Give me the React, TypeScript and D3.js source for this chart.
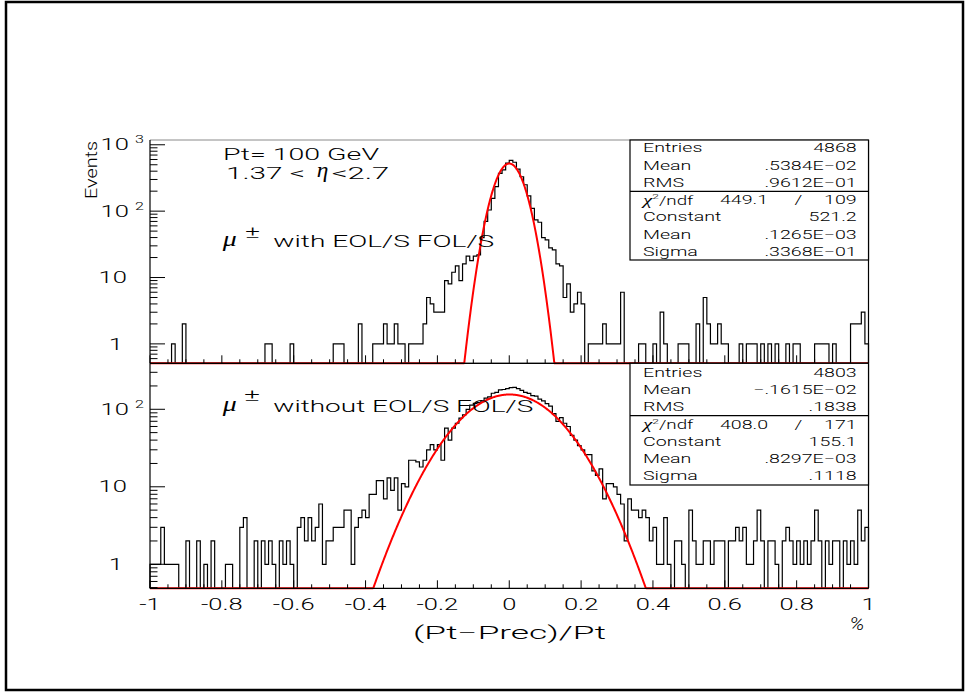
import React from 'react';
import * as d3 from 'd3';

// ---------- data ----------
const xTickValues = [-1, -0.8, -0.6, -0.4, -0.2, 0, 0.2, 0.4, 0.6, 0.8, 1];
const xTickLabels = ['-1', '-0.8', '-0.6', '-0.4', '-0.2', '0', '0.2', '0.4', '0.6', '0.8', '1'];

// 200 bins from -1 to 1 (width 0.01)
const topCounts = [
  0, 0, 0, 0, 0, 0, 1, 0, 0, 2,
  0, 0, 0, 0, 0, 0, 0, 0, 0, 0,
  0, 0, 0, 0, 0, 0, 0, 0, 0, 0,
  0, 0, 1, 1, 0, 0, 0, 0, 0, 1,
  0, 0, 0, 0, 0, 0, 0, 0, 0, 0,
  0, 1, 1, 1, 0, 0, 0, 0, 2, 0,
  0, 0, 1, 1, 1, 2, 1, 1, 2, 1,
  1, 0, 1, 1, 1, 1, 2, 5, 4, 3,
  3, 3, 9, 8, 12, 15, 9, 16, 21, 18,
  21, 22, 40, 70, 104, 156, 234, 370, 420, 530,
  580, 545, 430, 330, 250, 170, 110, 74, 68, 40,
  37, 28, 26, 16, 15, 5, 8, 3, 4, 6,
  4, 0, 1, 1, 1, 1, 2, 1, 1, 1,
  1, 6, 0, 0, 0, 0, 1, 1, 0, 0,
  1, 0, 3, 1, 0, 0, 0, 1, 1, 1,
  0, 0, 2, 0, 5, 2, 1, 1, 2, 1,
  1, 0, 0, 0, 1, 0, 1, 1, 1, 0,
  1, 0, 1, 0, 1, 0, 0, 1, 0, 1,
  1, 0, 0, 0, 0, 1, 1, 1, 1, 0,
  1, 0, 0, 0, 0, 2, 2, 2, 3, 1,
];

const bottomCounts = [
  1, 1, 1, 3, 1, 1, 1, 1, 0, 0,
  2, 0, 0, 2, 0, 1, 0, 2, 0, 0,
  0, 1, 1, 0, 0, 3, 4, 0, 0, 2,
  0, 2, 1, 2, 1, 0, 2, 1, 2, 1,
  0, 3, 4, 2, 4, 2, 3, 6, 1, 2,
  2, 3, 3, 3, 5, 5, 1, 3, 4, 5,
  4, 8, 8, 12, 12, 7, 13, 9, 13, 5,
  11, 10, 22, 22, 21, 18, 22, 30, 35, 30,
  35, 22, 57, 40, 57, 66, 77, 85, 100, 113,
  119, 122, 125, 139, 145, 161, 165, 178, 180, 185,
  190, 192, 185, 175, 165, 160, 150, 148, 135, 128,
  118, 110, 88, 70, 78, 66, 60, 46, 40, 34,
  30, 26, 26, 16, 14, 17, 7, 11, 11, 10,
  8, 6, 2, 7, 5, 5, 4, 5, 4, 2,
  3, 1, 1, 4, 1, 0, 2, 2, 1, 0,
  5, 2, 1, 1, 2, 2, 1, 2, 2, 2,
  0, 2, 2, 3, 2, 3, 1, 1, 2, 5,
  2, 0, 2, 2, 1, 0, 2, 3, 2, 1,
  2, 1, 2, 1, 2, 5, 2, 0, 2, 1,
  2, 2, 0, 2, 1, 2, 1, 5, 2, 3,
];

// fit parameters: constant, mean, sigma
const topFit = [521.2, 0.1265e-3, 0.3368e-1];
const bottomFit = [155.1, 0.8297e-3, 0.1118];

const statNames = ['Entries', 'Mean', 'RMS'];
const fitNames = ['Constant', 'Mean', 'Sigma'];
const topStatValues = ['4868', '.5384E\u221202', '.9612E\u221201'];
const topFitValues = ['521.2', '.1265E\u221203', '.3368E\u221201'];
const topChi2 = ['449.1', '109'];
const bottomStatValues = ['4803', '\u2212.1615E\u221202', '.1838'];
const bottomFitValues = ['155.1', '.8297E\u221203', '.1118'];
const bottomChi2 = ['408.0', '171'];

const topDecades = [1, 10, 100, 1000];
const bottomDecades = [1, 10, 100];

// ---------- layout ----------
const W = 971;
const H = 697;
const X0 = 150;
const X1 = 868.5;
const SANS = "Roboto, 'Liberation Sans', Arial, Helvetica, sans-serif";
const WEIGHT = 300;
const SERIF = "'Liberation Serif', 'Times New Roman', serif";

const xScale = d3.scaleLinear().domain([-1, 1]).range([X0, X1]);

type TProps = {
  x: number; y: number; s?: number; sx?: number; anchor?: string;
  children?: React.ReactNode; italic?: boolean; family?: string;
};
const T = ({ x, y, s = 16, sx = 1.6, anchor = 'start', children, italic, family }: TProps) => (
  <text
    transform={`translate(${x},${y}) scale(${sx},1)`}
    fontSize={s}
    textAnchor={anchor}
    dominantBaseline="central"
    fontFamily={family || SANS}
    fontWeight={WEIGHT}
    fontStyle={italic ? 'italic' : 'normal'}
    fill="#000"
  >
    {children}
  </text>
);

type LProps = { x: number; y: number; s: number; len: number; children?: React.ReactNode; italic?: boolean; family?: string; baseline?: boolean };
const TL = ({ x, y, s, len, children, italic, family, baseline }: LProps) => (
  <text
    x={x}
    y={y}
    fontSize={s}
    textLength={len}
    lengthAdjust="spacingAndGlyphs"
    dominantBaseline={baseline ? 'auto' : 'central'}
    fontFamily={family || SANS}
    fontWeight={family ? 400 : WEIGHT}
    fontStyle={italic ? 'italic' : 'normal'}
    fill="#000"
  >
    {children}
  </text>
);

type PanelProps = {
  counts: number[]; fit: number[]; top: number; bottom: number; yMin: number; yMax: number;
  decades: number[]; statValues: string[]; fitValues: string[]; chi2: string[];
  boxBottom: number; divider: number; row0: number; topGray: boolean;
};

function Panel(p: PanelProps) {
  const y = d3.scaleLog().domain([p.yMin, p.yMax]).range([p.bottom, p.top]);
  const n = p.counts.length;
  const bw = 2 / n;
  let hist = `M${xScale(-1)},${p.bottom}`;
  p.counts.forEach((c, i) => {
    const lo = -1 + i * bw;
    const hi = lo + bw;
    const yy = c > 0 ? y(c) : p.bottom;
    hist += `L${xScale(lo)},${yy}L${xScale(hi)},${yy}`;
  });
  hist += `L${xScale(1)},${p.bottom}`;

  const [C, M, S] = p.fit;
  const xs = d3.range(0, 1201).map((k) => -1 + (2 * k) / 1200);
  const fitLine = d3
    .line<number>()
    .x((v) => xScale(v))
    .y((v) => {
      const g = C * Math.exp(-0.5 * ((v - M) / S) ** 2);
      return y(Math.min(p.yMax, Math.max(p.yMin, g)));
    })(xs);

  const xt = d3.range(0, 41).map((k) => -1 + k * 0.05);
  const yt: { v: number; major: boolean }[] = [];
  for (let e = -1; e <= 3; e++) {
    for (let m = 1; m <= 9; m++) {
      const v = m * Math.pow(10, e);
      if (v >= p.yMin && v <= p.yMax) yt.push({ v, major: m === 1 });
    }
  }

  const rows = d3.range(7).map((k) => p.row0 + k * 17.25);
  const BX0 = 630;
  const LX = 643;
  const RX = 856.7;

  return (
    <g>
      <path d={hist} fill="none" stroke="#000" strokeWidth={1.2} />
      <path d={fitLine || ''} fill="none" stroke="#ff0000" strokeWidth={2} />
      <line x1={X0} x2={X1} y1={p.top} y2={p.top} stroke={p.topGray ? '#8a8a8a' : '#000'} strokeWidth={1} />
      <line x1={X0} x2={X1} y1={p.bottom} y2={p.bottom} stroke="#000" strokeWidth={1.2} />
      <line x1={X0} x2={X0} y1={p.top} y2={p.bottom} stroke="#000" strokeWidth={1.2} />
      <line x1={X1} x2={X1} y1={p.top} y2={p.bottom} stroke="#000" strokeWidth={1.2} />
      {xt.map((v, i) => {
        const major = Math.abs(Math.round(v * 5) - v * 5) < 1e-6;
        return (
          <line key={'xt' + i} x1={xScale(v)} x2={xScale(v)} y1={p.bottom} y2={p.bottom - (major ? 8 : 4)} stroke="#000" strokeWidth={1} />
        );
      })}
      {yt.map((t, i) => (
        <line key={'yt' + i} x1={X0} x2={X0 + (t.major ? 15 : 7.5)} y1={y(t.v)} y2={y(t.v)} stroke="#000" strokeWidth={1} />
      ))}
      {p.decades.map((v) => {
        const e = Math.round(Math.log10(v));
        const yy = y(v);
        if (e === 0) return <T key={'d' + v} x={123} y={yy} anchor="end">1</T>;
        if (e === 1) return <T key={'d' + v} x={127} y={yy} anchor="end">10</T>;
        return (
          <g key={'d' + v}>
            <T x={129} y={yy} anchor="end">10</T>
            <T x={135} y={yy - 5.7} s={11.5} sx={1.4}>{String(e)}</T>
          </g>
        );
      })}
      <rect x={BX0} y={p.top} width={X1 - BX0} height={p.boxBottom - p.top} fill="#fff" stroke="#000" strokeWidth={1.2} />
      <line x1={BX0} x2={X1} y1={p.divider} y2={p.divider} stroke="#000" strokeWidth={1.2} />
      {statNames.map((nm, k) => (
        <g key={'s' + k}>
          <T x={LX} y={rows[k]} s={12.5} sx={1.57}>{nm}</T>
          <T x={RX} y={rows[k]} s={12.5} sx={1.57} anchor="end">{p.statValues[k]}</T>
        </g>
      ))}
      <text
        transform={`translate(${LX},${rows[3]}) scale(1.5,1)`}
        fontSize={12.5}
        dominantBaseline="central"
        fontFamily={SANS}
        fontWeight={WEIGHT}
      >
        <tspan fontFamily={SERIF} fontStyle="italic" fontSize={14} fontWeight={400}>χ</tspan>
        <tspan fontSize={8} dy={-4}>2</tspan>
        <tspan dy={4}>/ndf</tspan>
      </text>
      <T x={744} y={rows[3]} s={12.5} sx={1.57} anchor="middle">{p.chi2[0]}</T>
      <T x={798.5} y={rows[3]} s={12.5} sx={1.57} anchor="middle">/</T>
      <T x={RX} y={rows[3]} s={12.5} sx={1.57} anchor="end">{p.chi2[1]}</T>
      {fitNames.map((nm, k) => (
        <g key={'f' + k}>
          <T x={LX} y={rows[4 + k]} s={12.5} sx={1.57}>{nm}</T>
          <T x={RX} y={rows[4 + k]} s={12.5} sx={1.57} anchor="end">{p.fitValues[k]}</T>
        </g>
      ))}
    </g>
  );
}

export default function App() {
  return (
    <svg
      width={W}
      height={H}
      viewBox={`0 0 ${W} ${H}`}
      style={{ position: 'absolute', left: 0, top: 0, background: '#fff' }}
    >
      <rect x={0} y={0} width={W} height={H} fill="#fff" />
      <rect x={6} y={2} width={957} height={688} fill="none" stroke="#000" strokeWidth={2.5} />

      <Panel
        counts={topCounts}
        fit={topFit}
        top={140}
        bottom={363.3}
        yMin={0.51}
        yMax={1180}
        decades={topDecades}
        statValues={topStatValues}
        fitValues={topFitValues}
        chi2={topChi2}
        boxBottom={260}
        divider={191.3}
        row0={148.3}
        topGray={true}
      />
      <Panel
        counts={bottomCounts}
        fit={bottomFit}
        top={363.3}
        bottom={588.3}
        yMin={0.49}
        yMax={392}
        decades={bottomDecades}
        statValues={bottomStatValues}
        fitValues={bottomFitValues}
        chi2={bottomChi2}
        boxBottom={485}
        divider={415.7}
        row0={372.7}
        topGray={false}
      />

      {xTickValues.map((v, i) => (
        <T key={'xl' + i} x={xScale(v)} y={604} s={17} sx={1.5} anchor="middle">{xTickLabels[i]}</T>
      ))}
      <TL x={413} y={632} s={19} len={193}>(Pt{'\u2212'}Prec)/Pt</TL>
      <T x={857} y={624} s={18} sx={1.15} anchor="middle" italic>%</T>

      <text
        transform="translate(96.5,199) rotate(-90)"
        fontSize={17}
        textLength={58}
        lengthAdjust="spacingAndGlyphs"
        fontFamily={SANS}
        fontWeight={WEIGHT}
      >
        Events
      </text>

      <TL x={223} y={154} s={16} len={156}>Pt= 100 GeV</TL>
      <TL x={226} y={173} s={16} len={79}>1.37 &lt;</TL>
      <TL x={316.7} y={177.3} s={20} len={11.6} italic family={SERIF} baseline>η</TL>
      <TL x={331.7} y={173} s={16} len={57.6}>&lt;2.7</TL>

      <TL x={222.7} y={245.7} s={20} len={14} italic family={SERIF} baseline>μ</TL>
      <TL x={245} y={232.5} s={16} len={15}>±</TL>
      <TL x={273.3} y={240.5} s={17} len={221}>with EOL/S FOL/S</TL>

      <TL x={222.7} y={410.7} s={20} len={14} italic family={SERIF} baseline>μ</TL>
      <TL x={244} y={395} s={16} len={16}>±</TL>
      <TL x={273.3} y={405.5} s={17} len={260}>without EOL/S FOL/S</TL>
    </svg>
  );
}
